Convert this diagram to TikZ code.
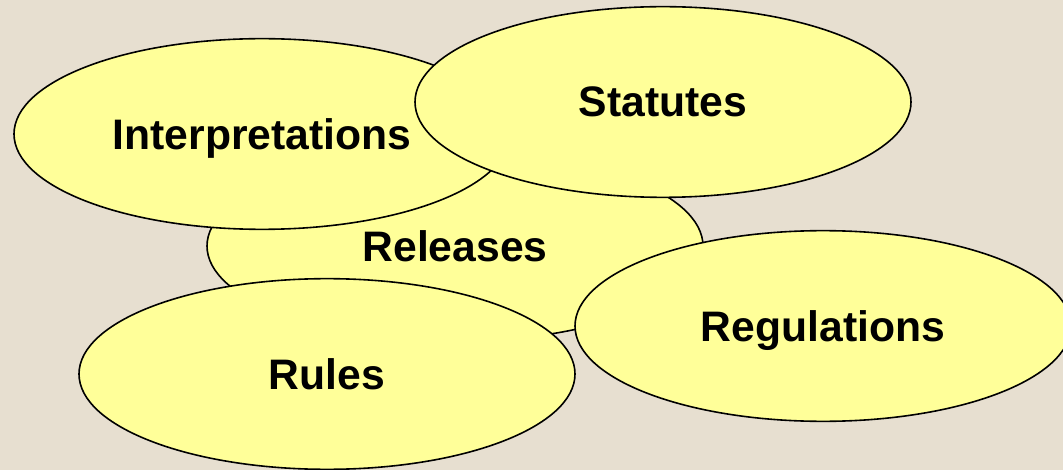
\documentclass[tikz,border=0pt]{standalone}
\usepackage{fontspec}
\setmainfont{Liberation Sans}
\usepackage{tikz}
\usetikzlibrary{shapes.geometric}
\usetikzlibrary{backgrounds}
\usepackage{xcolor}
\definecolor{slidebg}{HTML}{E7DFD0}
\definecolor{pale}{HTML}{FFFF99}
\tikzset{topic/.style={ellipse, draw=black, line width=1.2pt, fill=pale, inner sep=0pt,
  minimum width=372pt, minimum height=143pt, text depth=0pt,
  font=\fontsize{32}{38}\selectfont\bfseries}}

\begin{document}
\begin{tikzpicture}[x=0.75pt, y=-0.75pt]
\fill[slidebg] (0,0) rectangle (1063,470);
\useasboundingbox (0,0) rectangle (1063,470);
\node (releases) at (455,246) [topic] {Releases};
\node (interp) at (262,134) [topic] {Interpretations};
\node (statutes) at (663,102) [topic] {Statutes};
\node (regs) at (823,326) [topic] {Regulations};
\node (rules) at (327,374) [topic] {Rules};
\end{tikzpicture}
\end{document}
